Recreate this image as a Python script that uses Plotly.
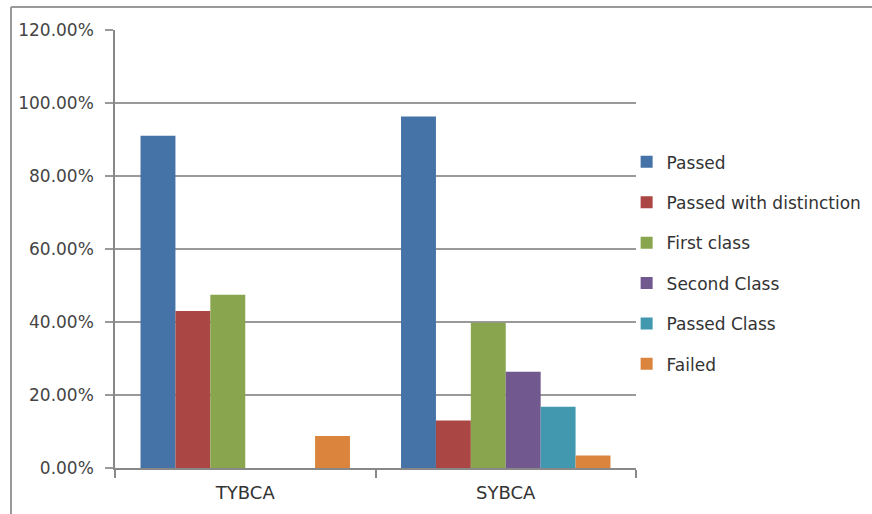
import plotly.graph_objects as go

categories = ["TYBCA", "SYBCA"]
series_names = ["Passed", "Passed with distinction", "First class",
                "Second Class", "Passed Class", "Failed"]
passed = [0.910, 0.963]
passed_distinction = [0.430, 0.130]
first_class = [0.475, 0.398]
second_class = [0.0, 0.264]
passed_class = [0.0, 0.168]
failed = [0.088, 0.034]
series_values = [passed, passed_distinction, first_class,
                 second_class, passed_class, failed]
colors = ["#4572A7", "#AA4643", "#89A54E", "#71588F", "#4198AF", "#DB843D"]
y_ticks = [0, 0.2, 0.4, 0.6, 0.8, 1.0, 1.2]

fig = go.Figure()
for name, vals, c in zip(series_names, series_values, colors):
    fig.add_trace(go.Bar(x=categories, y=vals, name=name, marker_color=c,
                         marker_line_width=0, legendgroup=name))

font_family = "DejaVu Sans, Arial, sans-serif"
fig.update_layout(
    width=872, height=514,
    margin=dict(l=115, r=236, t=30, b=46, autoexpand=False),
    paper_bgcolor="white", plot_bgcolor="white",
    barmode="group", bargap=0.196, bargroupgap=0,
    font=dict(family=font_family, size=17, color="#444"),
    showlegend=True,
    legend=dict(x=0.982, xanchor="left", y=0.739, yanchor="top",
                font=dict(size=17, color="#333"), tracegroupgap=15.3,
                itemwidth=30, bgcolor="rgba(0,0,0,0)"),
    xaxis=dict(type="category", showgrid=False, showline=True,
               linecolor="#888", linewidth=1.5, ticks="outside",
               tickson="boundaries", ticklen=8, tickcolor="#888",
               tickwidth=1.5, tickfont=dict(size=18, color="#333"),
               ticklabelstandoff=8),
    yaxis=dict(range=[0, 1.2], tickvals=y_ticks, tickformat=".2%",
               showgrid=True, gridcolor="#999", gridwidth=1.5,
               showline=True, linecolor="#888", linewidth=1.5,
               ticks="outside", ticklen=8, tickcolor="#999", tickwidth=1.5,
               zeroline=False, tickfont=dict(size=17, color="#444"),
               ticklabelstandoff=8),
    shapes=[
        dict(type="line", xref="paper", yref="paper",
             x0=(11 - 115) / 521, x1=(875 - 115) / 521,
             y0=(468 - 7) / 438, y1=(468 - 7) / 438,
             line=dict(color="#999", width=2)),
        dict(type="line", xref="paper", yref="paper",
             x0=(11 - 115) / 521, x1=(11 - 115) / 521,
             y0=(468 - 7) / 438, y1=(468 - 520) / 438,
             line=dict(color="#999", width=2)),
    ],
)

fig.write_html("out.html",
               config={"displayModeBar": False},
               post_script="document.body.style.margin='0';")
